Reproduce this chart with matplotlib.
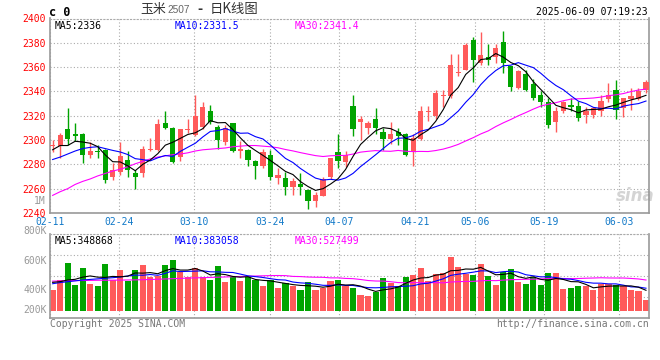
import matplotlib
matplotlib.use('Agg')
import matplotlib.pyplot as plt
import numpy as np
import pandas as pd

# daily candles, 玉米2507
opens = [2295, 2295, 2309, 2305, 2305, 2288, 2291, 2292, 2270, 2274,
         2284, 2273, 2273, 2292, 2292, 2314, 2310, 2286, 2308, 2304,
         2311, 2324, 2311, 2298, 2314, 2291, 2292, 2283, 2279, 2288,
         2269, 2269, 2261, 2264, 2259, 2250, 2254, 2270, 2290, 2282,
         2328, 2315, 2310, 2317, 2307, 2301, 2307, 2305, 2290, 2301,
         2323, 2320, 2336, 2336, 2355, 2358, 2382, 2363, 2368, 2368,
         2381, 2361, 2343, 2354, 2346, 2337, 2331, 2315, 2324, 2329,
         2328, 2321, 2321, 2324, 2334, 2341, 2326, 2334, 2334, 2341]
highs = [2300, 2306, 2326, 2314, 2306, 2298, 2296, 2293, 2281, 2298,
         2291, 2275, 2295, 2302, 2317, 2324, 2311, 2309, 2317, 2337,
         2331, 2329, 2312, 2312, 2314, 2299, 2293, 2284, 2293, 2292,
         2277, 2274, 2269, 2273, 2260, 2257, 2270, 2285, 2305, 2291,
         2337, 2320, 2316, 2326, 2310, 2315, 2310, 2306, 2305, 2328,
         2328, 2341, 2341, 2371, 2371, 2380, 2385, 2389, 2379, 2379,
         2390, 2361, 2358, 2358, 2350, 2340, 2335, 2327, 2332, 2335,
         2332, 2327, 2327, 2337, 2347, 2349, 2335, 2343, 2343, 2349]
lows = [2290, 2285, 2296, 2299, 2281, 2285, 2285, 2265, 2267, 2271,
        2270, 2260, 2270, 2291, 2291, 2309, 2281, 2283, 2306, 2303,
        2309, 2313, 2293, 2296, 2290, 2285, 2279, 2268, 2277, 2267,
        2264, 2255, 2255, 2255, 2243, 2245, 2254, 2268, 2277, 2278,
        2303, 2300, 2305, 2305, 2292, 2297, 2296, 2287, 2279, 2300,
        2316, 2317, 2327, 2335, 2353, 2358, 2348, 2362, 2362, 2363,
        2355, 2340, 2342, 2340, 2333, 2327, 2310, 2307, 2322, 2324,
        2316, 2314, 2318, 2320, 2331, 2317, 2319, 2325, 2333, 2339]
closes = [2296, 2304, 2301, 2303, 2288, 2291, 2290, 2267, 2275, 2287,
          2275, 2270, 2293, 2293, 2313, 2310, 2282, 2309, 2309, 2320,
          2327, 2315, 2300, 2310, 2291, 2293, 2284, 2279, 2290, 2270,
          2271, 2261, 2266, 2261, 2250, 2255, 2268, 2285, 2283, 2288,
          2309, 2317, 2314, 2310, 2301, 2305, 2303, 2288, 2302, 2324,
          2324, 2339, 2336, 2362, 2355, 2378, 2366, 2370, 2366, 2376,
          2363, 2344, 2357, 2341, 2335, 2331, 2312, 2324, 2331, 2327,
          2318, 2324, 2326, 2332, 2337, 2325, 2335, 2336, 2340, 2348]
# volume in thousands of lots
volumes_k = [360, 535, 837, 448, 744, 465, 430, 814, 535, 709,
             523, 709, 797, 581, 610, 797, 884, 669, 581, 744,
             581, 535, 779, 506, 581, 517, 581, 535, 430, 535,
             401, 477, 430, 360, 506, 360, 390, 517, 535, 430,
             390, 273, 256, 331, 564, 477, 430, 581, 622, 738,
             517, 640, 657, 930, 767, 640, 622, 814, 605, 448,
             674, 727, 506, 465, 581, 448, 657, 657, 378, 395,
             430, 430, 360, 459, 459, 448, 430, 365, 345, 190]

# moving average values before the window fills
ma5_head = [2292, 2295.5, 2295.5, 2299]
ma10_head = [2284, 2286, 2288.5, 2291, 2293, 2294, 2294.5, 2293, 2291.5]
ma30_head = [2254.5, 2257.5, 2260, 2263.5, 2266, 2268, 2270.5, 2272.5, 2274.5, 2276,
             2278, 2280.5, 2282.5, 2284.5, 2286, 2287, 2288, 2288.5, 2289.5, 2291,
             2292, 2292.5, 2293, 2293.5, 2294.5, 2295, 2295.5, 2295.5, 2295]
vma5_head = [494, 506, 535, 547]
vma10_head = [470, 490, 505, 520, 535, 545, 555, 565, 575]
vma30_head = [515, 518, 521, 524, 526, 528, 530, 531, 532, 533,
              535, 537, 540, 544, 548, 553, 558, 563, 568, 572,
              576, 580, 584, 588, 592, 596, 600, 604, 608]

tick_labels = ['02-11', '02-24', '03-10', '03-24', '04-07', '04-21', '05-06', '05-19', '06-03']
tick_index = [0, 9, 19, 29, 38, 48, 56, 65, 75]
price_ticks = list(range(2240, 2401, 20))
vol_labels = ['800K', '600K', '400K', '200K']

RED = '#ff5a5a'
GREEN = '#00a400'
GRID = '#aaaaaa'
MONO = 'DejaVu Sans Mono'

o = np.array(opens, float)
h = np.array(highs, float)
l = np.array(lows, float)
c = np.array(closes, float)
vol = np.array(volumes_k, float) * 1000
x = np.arange(len(c))
up = c >= o
cols = [RED if u else GREEN for u in up]


def ma(values, n, head):
    s = pd.Series(values).rolling(n).mean().to_numpy()
    return np.r_[np.array(head, float), s[n - 1:]]


ma5 = ma(c, 5, ma5_head)
ma10 = ma(c, 10, ma10_head)
ma30 = ma(c, 30, ma30_head)
vma5 = ma(vol, 5, np.array(vma5_head) * 1000)
vma10 = ma(vol, 10, np.array(vma10_head) * 1000)
vma30 = ma(vol, 30, np.array(vma30_head) * 1000)

W, H = 660, 360
fig = plt.figure(figsize=(W / 100, H / 100), dpi=100)


def box(x0, y0, x1, y1):
    return [x0 / W, 1 - y1 / H, (x1 - x0) / W, (y1 - y0) / H]


ax = fig.add_axes(box(50.3, 18.5, 649.3, 213))
axv = fig.add_axes(box(50.3, 234.3, 649.3, 317.7))
xl = (-0.27, 79.44)
# sina spaces its date grid a touch wider than the candles
grid_x = np.array(tick_index) * 1.0104 - 0.31

for a in (ax, axv):
    a.set_xlim(*xl)
    a.set_xticks(grid_x)
    a.tick_params(length=0)
    a.grid(True, color=GRID, linestyle=(0, (1, 2)), linewidth=0.8)
    a.set_axisbelow(True)
    for s in ('left', 'bottom', 'right'):
        a.spines[s].set_color('#999999')
        a.spines[s].set_linewidth(1.2)
    a.spines['top'].set_color(GRID)
    a.spines['top'].set_linestyle((0, (1, 2)))
    a.spines['top'].set_linewidth(0.8)
    a.set_facecolor('white')

# candles
ax.vlines(x, l, h, colors=cols, linewidth=1.0, zorder=2)
body_lo = np.minimum(o, c)
body_h = np.maximum(np.abs(c - o), 0.7)
ax.bar(x, body_h, bottom=body_lo, width=0.7, color=cols, linewidth=0, zorder=3)
ax.plot(x, ma30, color='#ff00ff', lw=0.8, zorder=4)
ax.plot(x, ma10, color='#0000ff', lw=0.8, zorder=4)
ax.plot(x, ma5, color='black', lw=0.8, zorder=4)
ax.set_ylim(2240, 2400)
ax.set_yticks(price_ticks)
ax.set_yticklabels([str(t) for t in price_ticks], color='#ff0000', family=MONO, fontsize=7)
ax.set_xticklabels(tick_labels, color='#1078c8', family=MONO, fontsize=7)
ax.tick_params(axis='x', pad=3)
ax.tick_params(axis='y', pad=3)

ax.text(0.008, 0.985, 'MA5:2336', transform=ax.transAxes, color='black', family=MONO,
        fontsize=7, va='top')
ax.text(0.208, 0.985, 'MA10:2331.5', transform=ax.transAxes, color='#0000ff', family=MONO,
        fontsize=7, va='top')
ax.text(0.408, 0.985, 'MA30:2341.4', transform=ax.transAxes, color='#ff00ff', family=MONO,
        fontsize=7, va='top')
ax.text(0.977, 0.085, 'sina', transform=ax.transAxes, color='#d4d4d4', fontsize=12,
        fontweight='bold', style='italic', ha='center', va='center', zorder=1)

# volume
axv.bar(x, vol, width=0.82, color=cols, linewidth=0, zorder=2)
axv.plot(x, vma30, color='#ff00ff', lw=0.8, zorder=3)
axv.plot(x, vma10, color='#0000ff', lw=0.8, zorder=3)
axv.plot(x, vma5, color='black', lw=0.8, zorder=3)
axv.set_ylim(-122600, 1332000)
axv.set_yticks(np.linspace(-122600, 1332000, 5))
axv.set_yticklabels([])
axv.set_xticklabels([])
for lab, fy in zip(vol_labels, [1.04, 0.683, 0.332, 0.092]):
    axv.text(-0.006, fy, lab, transform=axv.transAxes, ha='right', va='center',
             color='#999999', family=MONO, fontsize=7)
axv.text(0.008, 0.985, 'MA5:348868', transform=axv.transAxes, color='black', family=MONO,
         fontsize=7, va='top')
axv.text(0.208, 0.985, 'MA10:383058', transform=axv.transAxes, color='#0000ff', family=MONO,
         fontsize=7, va='top')
axv.text(0.408, 0.985, 'MA30:527499', transform=axv.transAxes, color='#ff00ff', family=MONO,
         fontsize=7, va='top')

# header and footer
cjk = ['Noto Sans CJK SC', 'DejaVu Sans']
fig.text(49 / W, 1 - 12.5 / H, 'c 0', family=MONO, fontweight='bold', fontsize=8.5,
         va='center', color='black')
fig.text(140.5 / W, 1 - 9.5 / H, '玉米', family=cjk, fontsize=9.3, va='center', color='#333333')
fig.text(167 / W, 1 - 10 / H, '2507', family='Liberation Sans', fontsize=7.3, va='center',
         color='#666666')
fig.text(200 / W, 1 - 9.5 / H, '-', family='DejaVu Sans', fontsize=9, fontweight='bold',
         ha='center', va='center', color='#333333')
fig.text(209.5 / W, 1 - 9.5 / H, '日K线图', family=cjk, fontsize=9.6, va='center', color='#333333')
fig.text(648 / W, 1 - 11.7 / H, '2025-06-09 07:19:23', family=MONO, fontsize=7,
         ha='right', va='center', color='black')
fig.text(46 / W, 1 - 201 / H, '1M', family=MONO, fontsize=7, ha='right', va='center',
         color='#999999')
fig.text(50 / W, 1 - 324 / H, 'Copyright 2025 SINA.COM', family=MONO, fontsize=7,
         va='center', color='#777777')
fig.text(649 / W, 1 - 324 / H, 'http://finance.sina.com.cn', family=MONO, fontsize=7,
         ha='right', va='center', color='#777777')

fig.savefig('out.png', dpi=100)
